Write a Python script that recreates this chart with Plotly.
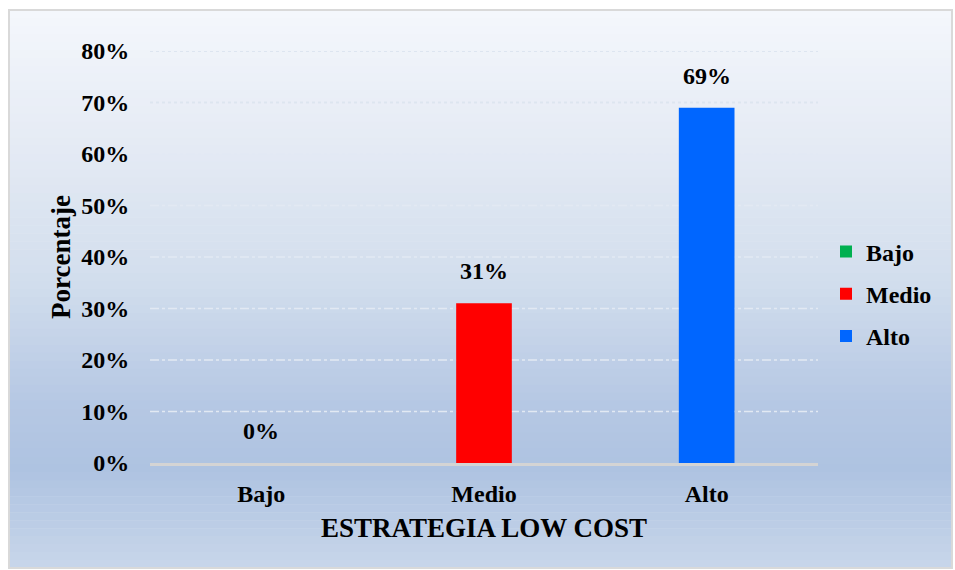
import plotly.graph_objects as go

categories = ["Bajo", "Medio", "Alto"]
values = [0, 31, 69]
bar_colors = ["#00b050", "#ff0000", "#0066ff"]
y_tickvals = [0, 10, 20, 30, 40, 50, 60, 70, 80]
y_ticktext = [f"{v}%" for v in y_tickvals]
x_title = "ESTRATEGIA LOW COST"
y_title = "Porcentaje"

W, H = 955, 570
L, R, T, B = 150, 137, 51, 107
PW, PH = W - L - R, H - T - B

def px_x(px):
    return (px - L) / PW

def px_y(py):
    return (H - B - py) / PH

FONT = "Liberation Serif"

fig = go.Figure()
for cat, val, col in zip(categories, values, bar_colors):
    fig.add_trace(go.Bar(x=[cat], y=[val], name=cat, marker_color=col,
                         marker_line_width=0,
                         width=0.25, legendgroup=cat, hoverinfo="skip"))

# gradient background bands (styling)
stops = [(10, (244, 247, 252)), (150, (228, 234, 244)), (280, (210, 222, 237)),
         (400, (182, 200, 228)), (470, (174, 195, 225)), (568, (200, 214, 234))]
shapes = []
nb = 70
y0p, y1p = 10, 568
for i in range(nb):
    a = y0p + (y1p - y0p) * i / nb
    b = y0p + (y1p - y0p) * (i + 1) / nb
    m = (a + b) / 2
    for j in range(len(stops) - 1):
        if stops[j][0] <= m <= stops[j + 1][0]:
            t = (m - stops[j][0]) / (stops[j + 1][0] - stops[j][0])
            c = tuple(round(stops[j][1][k] + t * (stops[j + 1][1][k] - stops[j][1][k])) for k in range(3))
            break
    shapes.append(dict(type="rect", xref="paper", yref="paper", layer="below",
                       x0=px_x(9), x1=px_x(952), y0=px_y(b + 0.6), y1=px_y(a),
                       fillcolor=f"rgb{c}", line=dict(width=0)))
shapes.append(dict(type="rect", xref="paper", yref="paper", layer="below",
                   x0=px_x(9), x1=px_x(952), y0=px_y(568), y1=px_y(10),
                   fillcolor="rgba(0,0,0,0)", line=dict(color="#d9d9d9", width=2)))
# gridlines
for v in y_tickvals[1:]:
    top = v >= 70
    shapes.append(dict(type="line", xref="paper", yref="y", x0=0, x1=1, y0=v, y1=v,
                       layer="above" if top else "below",
                       line=dict(color="#dde5f0" if top else "#e2e9f3", width=2 if top else 1.3,
                                 dash="dot" if top else "dashdot")))

annotations = []
for cat, val in zip(categories, values):
    annotations.append(dict(x=cat, y=val, xref="x", yref="y", text=f"<b>{val}%</b>",
                            showarrow=False, yanchor="bottom", yshift=17,
                            font=dict(family=FONT, size=24, color="black")))

fig.update_layout(
    width=W, height=H,
    margin=dict(l=L, r=R, t=T, b=B),
    paper_bgcolor="white", plot_bgcolor="rgba(0,0,0,0)",
    barmode="overlay",
    shapes=shapes, annotations=annotations,
    font=dict(family=FONT, size=24, color="black"),
    xaxis=dict(showgrid=False, showline=True, linecolor="#d4d4d4", linewidth=3,
               ticks="outside", ticklen=7, tickcolor="rgba(0,0,0,0)",
               tickfont=dict(family=FONT, size=24, weight="bold"),
               title=dict(text=f"<b>{x_title}</b>", font=dict(family=FONT, size=27), standoff=13),
               range=[-0.5, 2.5]),
    yaxis=dict(range=[0, 80], tickvals=y_tickvals, ticktext=[f"<b>{t}</b>" for t in y_ticktext],
               showgrid=False, zeroline=False, showline=False,
               ticks="outside", ticklen=15, tickcolor="rgba(0,0,0,0)",
               tickfont=dict(family=FONT, size=24),
               title=dict(text=f"<b>{y_title}</b>", font=dict(family=FONT, size=27), standoff=2)),
    legend=dict(x=px_x(826), y=px_y(294), xanchor="left", yanchor="middle",
                bgcolor="rgba(0,0,0,0)", traceorder="grouped", tracegroupgap=8,
                font=dict(family=FONT, size=24, weight="bold"), itemclick=False),
    showlegend=True,
)

fig.write_html("out.html")
